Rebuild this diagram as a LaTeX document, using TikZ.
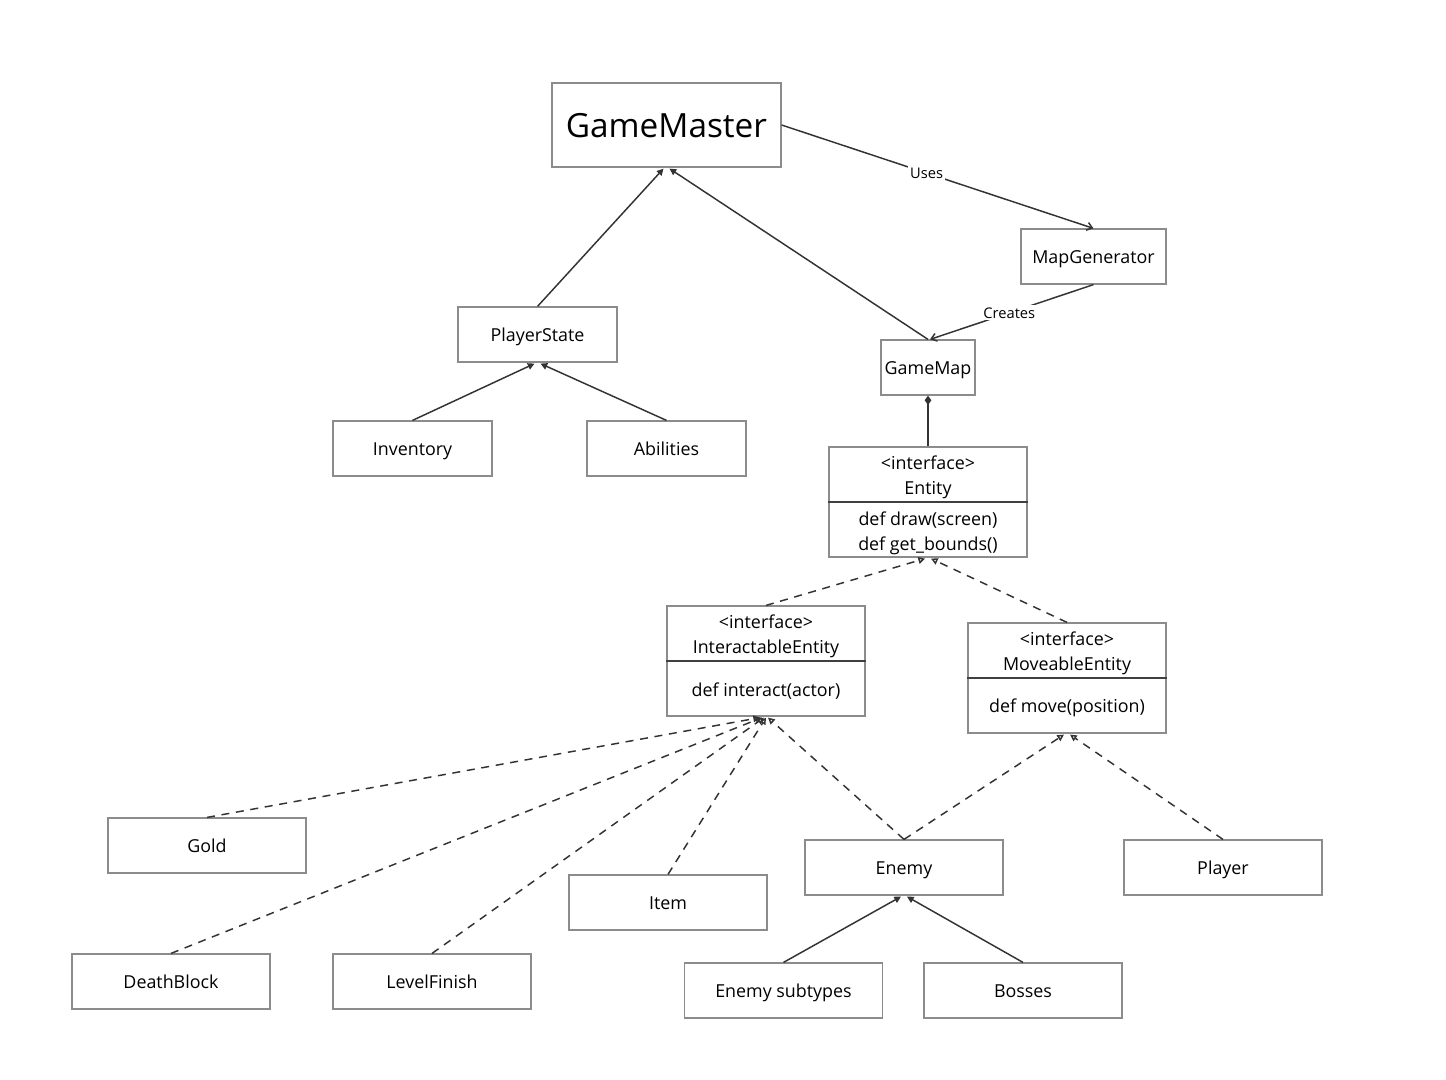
\documentclass[tikz,border=0pt]{standalone}
\usepackage{fontspec}
\setmainfont{Open Sans}
\usetikzlibrary{arrows.meta,calc}
\tikzset{
  box/.style={draw=black!45, line width=0.9pt, fill=white, inner sep=0pt, font=\fontsize{13.4pt}{18.75pt}\selectfont, align=center, text height=10.8pt, text depth=0pt},
  txt/.style={inner sep=0pt, font=\fontsize{13.4pt}{18.75pt}\selectfont, align=center},
  conn/.style={draw=black!80, line width=1.1pt},
  inh/.style={conn, -{Triangle[length=5pt,width=5pt]}},
  real/.style={conn, dashed, dash pattern=on 6pt off 5pt, -{Triangle[open,length=5pt,width=5pt]}},
  use/.style={conn, -{Straight Barb[length=4pt,width=6pt]}},
  comp/.style={conn, -{Diamond[length=7pt,width=5pt]}},
  lbl/.style={fill=white, inner sep=1.5pt, font=\fontsize{11pt}{12pt}\selectfont},
}
\begin{document}
\begin{tikzpicture}[x=0.75pt,y=-0.75pt]
\useasboundingbox[fill=white] (0,0) rectangle (1446,1079);
% boxes
\node[box, minimum width=171.75pt, minimum height=63pt, font=\fontsize{25pt}{30pt}\selectfont, text height=18.5pt, text depth=0pt] (gm) at (666.5,125) {GameMaster};
\node[box, minimum width=108.75pt, minimum height=41.25pt] (mg) at (1093.5,256.5) {MapGenerator};
\node[box, minimum width=119.25pt, minimum height=41.25pt] (ps) at (537.5,334.5) {PlayerState};
\node[box, minimum width=70.5pt, minimum height=41.25pt] (gmap) at (928,367.5) {GameMap};
\node[box, minimum width=119.25pt, minimum height=41.25pt] (inv) at (412.5,448.5) {Inventory};
\node[box, minimum width=119.25pt, minimum height=41.25pt] (ab) at (666.5,448.5) {Abilities};
% Entity
\node[box, minimum width=148.5pt, minimum height=82.5pt] (ent) at (928,502) {};
\draw[draw=black!75, line width=0.9pt] (ent.west) -- (ent.east);
\node[txt] (entT) at (928,477.5) {<interface>\\Entity};
\node[txt] (entB) at (928,533) {def draw(screen)\\def get\_bounds()};
% InteractableEntity
\node[box, minimum width=148.5pt, minimum height=82.5pt] (ie) at (766,661) {};
\draw[draw=black!75, line width=0.9pt] (ie.west) -- (ie.east);
\node[txt] (ieT) at (766,636.5) {<interface>\\InteractableEntity};
\node[txt] (ieB) at (766,691) {def interact(actor)};
% MoveableEntity
\node[box, minimum width=148.5pt, minimum height=82.5pt] (me) at (1067,678) {};
\draw[draw=black!75, line width=0.9pt] (me.west) -- (me.east);
\node[txt] (meT) at (1067,653.5) {<interface>\\MoveableEntity};
\node[txt] (meB) at (1067,708) {def move(position)};
% leaves
\node[box, minimum width=148.5pt, minimum height=41.25pt] (gold) at (207,845.5) {Gold};
\node[box, minimum width=148.5pt, minimum height=41.25pt] (enemy) at (904,867.5) {Enemy};
\node[box, minimum width=148.5pt, minimum height=41.25pt] (player) at (1223,867.5) {Player};
\node[box, minimum width=148.5pt, minimum height=41.25pt] (item) at (668,902.5) {Item};
\node[box, minimum width=148.5pt, minimum height=41.25pt] (death) at (171,981.5) {DeathBlock};
\node[box, minimum width=148.5pt, minimum height=41.25pt] (lvl) at (432,981.5) {LevelFinish};
\node[box, minimum width=148.5pt, minimum height=41.25pt] (esub) at (783.5,990.5) {Enemy subtypes};
\node[box, minimum width=148.5pt, minimum height=41.25pt] (boss) at (1023,990.5) {Bosses};
% connectors
\draw[inh] (ps.north) -- ($(gm.south)+(-3,1)$);
\draw[inh] (gmap.north) -- ($(gm.south)+(3,1)$);
\draw[inh] (inv.north) -- ($(ps.south)+(-3,1)$);
\draw[inh] (ab.north) -- ($(ps.south)+(3,1)$);
\draw[use] (gm.east) -- node[lbl, pos=0.465] {Uses} (mg.north);
\draw[use] (mg.south) -- node[lbl, pos=0.515] {Creates} ($(gmap.north)+(2,0)$);
\draw[comp] (ent.north) -- (gmap.south);
\draw[real] (ie.north) -- ($(ent.south)+(-3,1)$);
\draw[real] (me.north) -- ($(ent.south)+(3,1)$);
\draw[real] (gold.north) -- ($(ie.south)+(-6,1)$);
\draw[real] (death.north) -- ($(ie.south)+(-4,1)$);
\draw[real] (lvl.north) -- ($(ie.south)+(-2,1)$);
\draw[real] (item.north) -- ($(ie.south)+(0,1)$);
\draw[real] (enemy.north) -- ($(ie.south)+(2,1)$);
\draw[real] (enemy.north) -- ($(me.south)+(-3,1)$);
\draw[real] (player.north) -- ($(me.south)+(3,1)$);
\draw[inh] (esub.north) -- ($(enemy.south)+(-3,1)$);
\draw[inh] (boss.north) -- ($(enemy.south)+(3,1)$);
\end{tikzpicture}
\end{document}
